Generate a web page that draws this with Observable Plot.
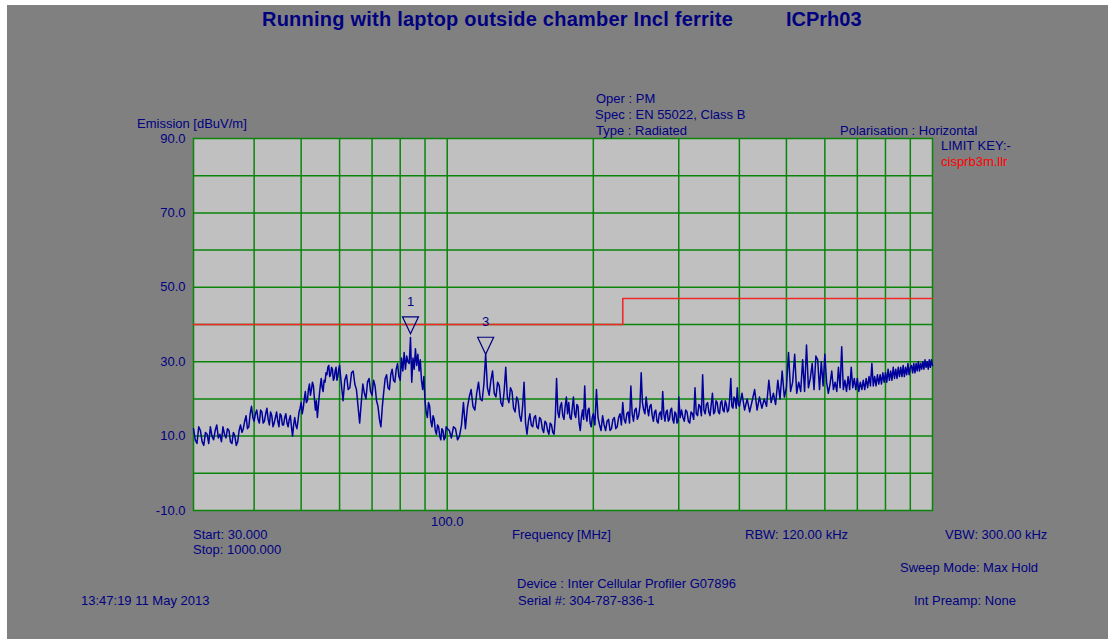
<!DOCTYPE html>
<html><head><meta charset="utf-8">
<script src="https://cdn.jsdelivr.net/npm/d3@7"></script>
<script src="https://cdn.jsdelivr.net/npm/@observablehq/plot@0.6"></script>
<style>
html,body{margin:0;padding:0;background:#fff;}
#page{position:relative;width:1108px;height:639px;overflow:hidden;background:#fff;}
#bg{position:absolute;left:7px;top:5px;right:0;bottom:0;background:#808080;}
#chart{position:absolute;left:0;top:0;}
.t{position:absolute;white-space:nowrap;font-family:"Liberation Sans",Arial,sans-serif;font-size:13px;line-height:14px;color:#000080;}
.title{font-size:20px;line-height:22px;font-weight:bold;letter-spacing:0.23px;}
</style></head><body>
<div id="page">
<div id="bg"></div>
<div id="chart"></div>
<div class="t title" style="left:262px;top:8px">Running with laptop outside chamber Incl ferrite</div>
<div class="t title" style="left:786px;top:8px;letter-spacing:0">ICPrh03</div>
<div class="t" style="left:137px;top:117px">Emission [dBuV/m]</div>
<div class="t" style="left:596px;top:92px">Oper : PM</div>
<div class="t" style="left:595px;top:108px">Spec : EN 55022, Class B</div>
<div class="t" style="left:596px;top:124px">Type : Radiated</div>
<div class="t" style="left:840px;top:124px">Polarisation : Horizontal</div>
<div class="t" style="left:941px;top:139px">LIMIT KEY:-</div>
<div class="t" style="left:941px;top:155px;color:#ff0000">cisprb3m.llr</div>
<div class="t" style="left:193px;top:528px">Start: 30.000</div>
<div class="t" style="left:193px;top:543px">Stop: 1000.000</div>
<div class="t" style="left:512px;top:528px">Frequency [MHz]</div>
<div class="t" style="left:745px;top:528px">RBW: 120.00 kHz</div>
<div class="t" style="left:945px;top:528px">VBW: 300.00 kHz</div>
<div class="t" style="left:900px;top:561px">Sweep Mode: Max Hold</div>
<div class="t" style="left:517px;top:577px">Device : Inter Cellular Profiler G07896</div>
<div class="t" style="left:518px;top:594px">Serial #: 304-787-836-1</div>
<div class="t" style="left:81px;top:594px">13:47:19 11 May 2013</div>
<div class="t" style="left:914px;top:594px">Int Preamp: None</div>
</div>
<script>
// Measured trace, [frequency MHz, level dBuV/m]
const trace30to60 = [
[30,12.0],[30.25,9.0],[30.5,8.0],[30.75,12.5],[31,11.5],[31.25,8.5],[31.5,7.5],[31.75,11.0],[32,10.5],[32.25,8.0],
[32.5,12.5],[32.75,10.0],[33,9.0],[33.25,11.5],[33.5,13.0],[33.75,9.5],[34,10.5],[34.25,8.5],[34.5,12.5],[34.75,10.5],
[35,9.5],[35.25,12.0],[35.5,11.5],[35.75,8.5],[36,8.0],[36.25,11.0],[36.5,10.0],[36.75,7.5],[37,8.5],[37.25,11.5],
[37.5,13.0],[37.75,11.0],[38,12.0],[38.25,14.0],[38.5,15.5],[38.75,12.0],[39,12.5],[39.25,16.0],[39.5,18.0],[39.75,15.0],
[40,14.0],[40.25,16.0],[40.5,17.0],[40.75,14.5],[41,13.5],[41.25,17.0],[41.5,16.5],[41.75,13.5],[42,14.0],[42.25,16.0],
[42.5,17.5],[42.75,14.5],[43,13.0],[43.25,16.5],[43.5,15.5],[43.75,12.5],[44,13.5],[44.25,15.0],[44.5,16.5],[44.75,14.0],
[45,12.5],[45.25,16.0],[45.5,15.5],[45.75,13.0],[46,13.0],[46.25,15.0],[46.5,16.0],[46.75,13.5],[47,12.5],[47.25,14.5],
[47.5,15.5],[47.75,12.5],[48,10.0],[48.25,13.0],[48.5,15.0],[48.75,13.0],[49,12.0],[49.25,14.0],[49.5,16.5],[49.75,17.5],
[50,19.0],[50.25,16.0],[50.5,17.5],[50.75,20.0],[51,22.0],[51.25,19.0],[51.5,19.5],[51.75,22.5],[52,24.0],[52.25,21.0],
[52.5,22.5],[52.75,24.5],[53,23.5],[53.25,20.0],[53.5,17.0],[53.75,19.5],[54,15.0],[54.25,18.0],[54.5,21.0],[54.75,23.5],
[55,25.5],[55.25,23.0],[55.5,22.0],[55.75,25.0],[56,24.5],[56.25,27.0],[56.5,26.5],[56.75,28.5],[57,29.0],[57.25,26.0],
[57.5,26.5],[57.75,28.5],[58,28.0],[58.25,25.0],[58.5,25.5],[58.75,27.5],[59,28.5],[59.25,25.0],[59.5,26.0],[59.75,28.0],[60,29.0]];
const trace60to100 = [
[60.5,24.0],[61,19.5],[61.5,25.0],[62,26.5],[62.5,22.5],[63,23.0],[63.5,27.0],[64,27.5],[64.5,24.0],[65,22.5],
[65.5,18.0],[66,13.5],[66.5,19.0],[67,24.0],[67.5,21.5],[68,20.0],[68.5,24.5],[69,25.5],[69.5,22.0],[70,21.0],
[70.5,25.0],[71,23.5],[71.5,19.5],[72,18.0],[72.5,14.5],[73,12.5],[73.5,18.0],[74,22.0],[74.5,25.5],[75,26.5],
[75.5,23.0],[76,22.5],[76.5,26.5],[77,28.0],[77.5,25.0],[78,24.5],[78.5,28.0],[79,29.5],[79.5,26.0],[80,25.0],
[80.5,31.0],[81,27.5],[81.5,32.5],[82,28.0],[82.5,31.5],[83,30.0],[83.5,29.5],[84,36.5],[84.5,24.5],[85,31.0],
[85.5,28.0],[86,33.5],[86.5,29.0],[87,32.0],[87.5,27.5],[88,30.5],[88.5,25.0],[89,22.5],[89.5,26.0],[90,19.5],
[90.5,16.5],[91,15.0],[91.5,19.0],[92,18.0],[92.5,14.0],[93,12.5],[93.5,15.5],[94,14.5],[94.5,11.5],[95,10.5],
[95.5,13.0],[96,12.5],[96.5,10.0],[97,9.0],[97.5,12.0],[98,11.5],[98.5,9.0],[99,9.5],[99.5,12.5],[100,12.0]];
const trace100to200 = [
[101,11.5],[102,9.5],[103,12.5],[104,12.0],[105,9.0],[106,10.0],[107,13.0],[108,19.0],[109,12.0],[110,17.5],
[111,20.5],[112,22.5],[113,18.0],[114,17.0],[115,21.5],[116,24.5],[117,20.0],[118,19.5],[119,24.0],[120,32.0],
[121,23.0],[122,21.0],[123,25.0],[124,27.5],[125,21.5],[126,20.5],[127,24.5],[128,23.5],[129,19.0],[130,18.0],
[131,22.0],[132,28.5],[133,20.5],[134,19.0],[135,23.0],[136,22.0],[137,17.5],[138,16.5],[139,20.5],[140,19.5],
[141,15.5],[142,14.0],[143,18.0],[144,24.5],[145,13.5],[146,10.5],[147,14.0],[148,16.0],[149,13.0],[150,12.5],
[151,15.0],[152,15.5],[153,12.5],[154,12.0],[155,15.0],[156,14.5],[157,12.0],[158,11.0],[159,14.0],[160,13.5],
[161,11.5],[162,10.5],[163,13.5],[164,13.0],[165,11.0],[166,10.5],[167,15.0],[168,25.5],[169,16.5],[170,15.0],
[171,18.0],[172,19.0],[173,15.5],[174,14.5],[175,18.0],[176,20.5],[177,16.0],[178,19.0],[179,15.0],[180,14.5],
[181,17.5],[182,20.5],[183,16.0],[184,15.0],[185,18.5],[186,18.0],[187,13.5],[188,11.5],[189,15.0],[190,17.0],
[191,14.5],[192,23.5],[193,16.0],[194,14.0],[195,17.0],[196,17.5],[197,13.5],[198,12.5],[199,15.0],[200,16.0]];
const trace200to300 = [
[201.5,13.0],[203,22.5],[204.5,15.0],[206,13.0],[207.5,11.5],[209,15.5],[210.5,13.0],[212,11.5],[213.5,14.0],[215,14.5],
[216.5,11.5],[218,12.0],[219.5,14.5],[221,15.0],[222.5,12.0],[224,12.5],[225.5,15.0],[227,16.0],[228.5,13.0],[230,19.0],
[231.5,14.5],[233,13.5],[234.5,16.0],[236,16.5],[237.5,13.5],[239,23.5],[240.5,16.0],[242,14.0],[243.5,17.0],[245,17.5],
[246.5,14.5],[248,15.5],[249.5,18.0],[251,27.0],[252.5,19.0],[254,17.0],[255.5,16.0],[257,20.5],[258.5,17.5],[260,15.5],
[261.5,18.0],[263,18.5],[264.5,15.5],[266,14.0],[267.5,16.5],[269,17.0],[270.5,14.0],[272,13.5],[273.5,16.0],[275,16.5],
[276.5,14.5],[278,22.0],[279.5,16.0],[281,14.0],[282.5,16.5],[284,17.0],[285.5,14.0],[287,14.5],[288.5,17.0],[290,17.5],
[291.5,14.5],[293,13.5],[294.5,16.5],[296,16.0],[297.5,13.5],[299,14.0],[300,20.5]];
const trace300to400 = [
[302,15.0],[304,17.0],[306,15.0],[308,14.0],[310,17.0],[312,16.5],[314,14.0],[316,13.5],[318,16.5],[320,16.0],
[322,14.5],[324,23.0],[326,16.0],[328,15.5],[330,18.5],[332,18.0],[334,15.5],[336,26.5],[338,17.0],[340,16.0],
[342,18.5],[344,19.0],[346,16.5],[348,15.5],[350,18.5],[352,21.5],[354,16.0],[356,16.5],[358,19.5],[360,19.0],
[362,16.5],[364,16.0],[366,19.0],[368,19.5],[370,17.0],[372,16.5],[374,19.5],[376,18.5],[378,16.5],[380,17.0],
[382,20.0],[384,25.5],[386,18.0],[388,17.5],[390,20.5],[392,20.0],[394,17.5],[396,23.0],[398,18.5],[400,18.0]];
const trace400to600 = [
[405,21.5],[410,17.0],[415,20.0],[420,16.5],[425,19.5],[430,22.5],[435,17.0],[440,20.5],[445,17.5],[450,20.0],
[455,18.0],[460,25.0],[465,19.0],[470,21.5],[475,18.5],[480,25.0],[485,20.0],[490,27.5],[495,20.5],[500,23.0],
[505,32.5],[510,22.0],[515,24.5],[520,32.0],[525,21.5],[530,24.5],[535,22.0],[540,30.5],[545,22.0],[550,34.5],
[555,23.0],[560,25.5],[565,29.5],[570,22.5],[575,31.5],[580,30.5],[585,22.5],[590,30.0],[595,23.5],[600,32.0]];
const trace600to1000 = [
[605,24.5],[610,21.5],[615,24.0],[620,27.5],[625,22.5],[630,24.5],[635,22.0],[640,28.5],[645,23.0],[650,34.0],
[655,22.5],[660,25.0],[665,22.0],[670,26.0],[675,22.5],[680,28.5],[685,23.0],[690,25.5],[695,22.5],[700,25.5],
[705,22.0],[710,24.5],[715,22.5],[720,25.0],[725,22.5],[730,25.5],[735,23.0],[740,26.0],[745,23.5],[750,29.5],
[755,23.5],[760,26.0],[765,23.5],[770,26.5],[775,24.0],[780,26.5],[785,24.0],[790,27.0],[795,24.5],[800,27.0],
[805,24.5],[810,28.0],[815,25.0],[820,27.5],[825,25.0],[830,28.5],[835,25.5],[840,28.0],[845,25.5],[850,28.5],
[855,26.0],[860,28.5],[865,26.0],[870,29.0],[875,26.0],[880,28.5],[885,26.5],[890,29.5],[895,26.5],[900,28.5],
[905,29.0],[910,27.0],[915,29.5],[920,27.0],[925,29.5],[930,27.5],[935,30.0],[940,27.5],[945,29.5],[950,28.0],
[955,30.0],[960,28.0],[965,30.5],[970,28.5],[975,30.0],[980,28.0],[985,30.5],[990,28.5],[995,30.5],[1000,29.0]];

// Limit line (cisprb3m)
const limitFreq = [30, 230, 230, 1000];
const limitLevel = [40, 40, 47, 47];

// Markers
const markerFreq = [84, 120];
const markerLevel = [37.5, 32.0];
const markerLabel = ["1", "3"];

// Axes and grid
const yTicks = [90, 70, 50, 30, 10, -10];
const xTicks = [100];
const gridLevels = [0, 10, 20, 30, 40, 50, 60, 70, 80];
const gridFreqs = [40, 50, 60, 70, 80, 90, 100, 200, 300, 400, 500, 600, 700, 800, 900];

const trace = [...trace30to60, ...trace60to100, ...trace100to200, ...trace200to300,
  ...trace300to400, ...trace400to600, ...trace600to1000].map(([f, v]) => ({f, v}));
const limit = limitFreq.map((f, i) => ({f, v: limitLevel[i]}));
const markers = markerFreq.map((f, i) => ({f, v: markerLevel[i], label: markerLabel[i]}));

const downTriangle = {
  draw(ctx) {
    ctx.moveTo(0, 0);
    ctx.lineTo(-8, -17);
    ctx.lineTo(8, -17);
    ctx.closePath();
  }
};

const green = "#0a850a";
const chart = Plot.plot({
  width: 1108, height: 639,
  marginLeft: 193, marginRight: 176, marginTop: 138, marginBottom: 129,
  style: {background: "transparent", color: "#000080", fontFamily: "Liberation Sans, Arial, sans-serif", fontSize: "13px"},
  x: {type: "log", domain: [30, 1000], label: null},
  y: {domain: [-10, 90], label: null},
  marks: [
    Plot.frame({fill: "#c0c0c0", stroke: null}),
    Plot.ruleY(gridLevels, {stroke: green, strokeWidth: 1.5}),
    Plot.ruleX(gridFreqs, {stroke: green, strokeWidth: 1.5}),
    Plot.frame({stroke: green, strokeWidth: 1.5}),
    Plot.line(limit, {x: "f", y: "v", stroke: "#f02828", strokeWidth: 1.6}),
    Plot.line(trace, {x: "f", y: "v", stroke: "#00009c", strokeWidth: 1.5}),
    Plot.dot(markers, {x: "f", y: "v", symbol: downTriangle, stroke: "#000080", fill: "none", strokeWidth: 1.2}),
    Plot.text(markers, {x: "f", y: "v", text: "label", dy: -32, fill: "#000080", fontSize: 13}),
    Plot.axisX({ticks: xTicks, tickFormat: d => d.toFixed(1), tickSize: 0, tickPadding: 6, label: null}),
    Plot.axisY({ticks: yTicks, tickFormat: d => d.toFixed(1), tickSize: 0, tickPadding: 8, label: null})
  ]
});
document.getElementById("chart").append(chart);
</script>
</body></html>
